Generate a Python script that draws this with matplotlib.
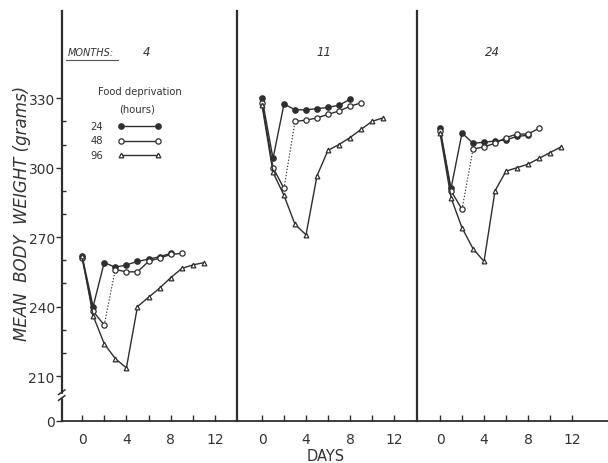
import matplotlib
matplotlib.use("Agg")
import matplotlib.pyplot as plt
from matplotlib.lines import Line2D

# ---------------- data ----------------
months = ["4", "11", "24"]
hours = ["24", "48", "96"]

days24 = [0, 1, 2, 3, 4, 5, 6, 7, 8]
days48 = [0, 1, 2, 3, 4, 5, 6, 7, 8, 9]
days96 = [0, 1, 2, 3, 4, 5, 6, 7, 8, 9, 10, 11]

w24_m4 = [262, 240, 259, 257, 258, 259.5, 260.5, 261.5, 263]
w48_m4 = [261, 238, 232, 256, 255, 255, 259.5, 261, 262.5, 263]
w96_m4 = [262, 236, 224, 217.5, 213.5, 240, 244, 248, 252.5, 256.5, 258, 259]

w24_m11 = [330, 304, 327.5, 325, 325, 325.5, 326, 327, 329.5]
w48_m11 = [328, 300, 291, 320, 320.5, 321.5, 323, 324.5, 326.5, 328]
w96_m11 = [327, 298, 288, 275.5, 271, 296.5, 307.5, 310, 313, 316.5, 320, 321.5]

w24_m24 = [317, 291, 315, 310.5, 311, 311.5, 312, 313.5, 314]
w48_m24 = [316, 290, 282, 308, 309, 310.5, 313, 314.5, 314.5, 317]
w96_m24 = [315, 287, 274, 265, 259.5, 290, 298.5, 300, 301.5, 304, 306.5, 309]

# recovery (food returned) index per deprivation length
recover = {"24": 2, "48": 3, "96": 5}

ytick_vals = [210, 240, 270, 300, 330]
xtick_vals = [0, 4, 8, 12]

# ---------------- figure ----------------
W, H = 608, 464
fig = plt.figure(figsize=(W / 100, H / 100), dpi=100)
fig.patch.set_facecolor("white")

ink = "#2e2e2e"
y_zero_pos = 190.7        # where the broken axis shows "0"
ylim = (y_zero_pos, 367.8)

x_left, x_div1, x_div2, x_right = 61.7, 236.7, 416.7, 608.0
y_bot, y_top = 421.7, 11.7
bot = (H - y_bot) / H
hgt = (y_bot - y_top) / H

panels = [
    (x_left, x_div1, (-1.83, 13.94)),
    (x_div1, x_div2, (-2.30, 14.06)),
    (x_div2, x_right, (-2.12, 15.27)),
]

data = [
    (w24_m4, w48_m4, w96_m4),
    (w24_m11, w48_m11, w96_m11),
    (w24_m24, w48_m24, w96_m24),
]

styles = {
    "24": dict(marker="o", mfc=ink, mec=ink, ms=3.8),
    "48": dict(marker="o", mfc="white", mec=ink, ms=3.8, mew=0.9),
    "96": dict(marker="^", mfc="white", mec=ink, ms=3.4, mew=0.9),
}

axes = []
for i, (xa, xb, xl) in enumerate(panels):
    ax = fig.add_axes([xa / W, bot, (xb - xa) / W, hgt])
    axes.append(ax)
    ax.set_xlim(*xl)
    ax.set_ylim(*ylim)
    for s in ["top", "right"]:
        ax.spines[s].set_visible(False)
    ax.spines["left"].set_linewidth(1.6)
    ax.spines["left"].set_color(ink)
    ax.spines["bottom"].set_linewidth(1.3)
    ax.spines["bottom"].set_color(ink)

    ax.set_xticks(xtick_vals)
    ax.set_xticks([2, 6, 10], minor=True)
    ax.set_xticklabels([str(v) for v in xtick_vals], fontsize=10, color="#333333")
    ax.tick_params(axis="x", which="both", direction="in", length=4, width=1.0,
                   color=ink, pad=8)

    if i == 0:
        ax.set_yticks([y_zero_pos] + ytick_vals)
        ax.set_yticklabels(["0"] + [str(v) for v in ytick_vals], fontsize=10,
                           color="#333333")
        ax.set_yticks([220, 230, 250, 260, 280, 290, 310, 320], minor=True)
        ax.tick_params(axis="y", which="major", direction="out", length=4,
                       width=1.0, color=ink, pad=1)
        ax.tick_params(axis="y", which="minor", direction="in", length=3,
                       width=1.0, color=ink)
    else:
        ax.set_yticks([])

    w24, w48, w96 = data[i]
    for key, dd, ww in (("24", days24, w24), ("48", days48, w48), ("96", days96, w96)):
        r = recover[key]
        st = styles[key]
        ax.plot(dd[:r], ww[:r], color=ink, lw=1.0, **st, zorder=3)
        ax.plot(dd[r:], ww[r:], color=ink, lw=1.0, **st, zorder=3)
        ls = (0, (1.2, 1.6)) if key == "48" else "-"
        lw = 0.8 if key == "48" else 1.0
        ax.plot(dd[r - 1:r + 1], ww[r - 1:r + 1], color=ink, lw=lw, ls=ls, zorder=2)

# axis break on the y axis
ax0 = axes[0]
trans = ax0.get_yaxis_transform()
for yy in (200.5, 203.0):
    ax0.plot([-0.018, 0.018], [yy - 1.0, yy + 1.0], transform=trans, color=ink,
             lw=1.1, clip_on=False, zorder=5)
ax0.add_patch(plt.Rectangle((-0.01, 201.0), 0.02, 1.4, transform=trans,
                            color="white", clip_on=False, zorder=4))

# labels
fig.text(22 / W, 1 - 213 / H, "MEAN  BODY  WEIGHT (grams)", rotation=90,
         ha="center", va="center", fontsize=12, style="italic",
         color="#333333")
fig.text(326 / W, 1 - 457 / H, "DAYS", ha="center", va="center", fontsize=10.5,
         color="#333333")

# month labels
fig.text(68 / W, 1 - 53 / H, "MONTHS:", ha="left", va="center", fontsize=7,
         style="italic", color="#333333")
fig.add_artist(Line2D([66 / W, 118 / W], [1 - 61 / H, 1 - 61 / H], color="#555555",
                      lw=0.8))
fig.text(147 / W, 1 - 53 / H, months[0], ha="center", va="center", fontsize=8.5,
         style="italic", color="#333333")
fig.text(324 / W, 1 - 53 / H, months[1], ha="center", va="center", fontsize=8.5,
         style="italic", color="#333333")
fig.text(492 / W, 1 - 53 / H, months[2], ha="center", va="center", fontsize=8.5,
         style="italic", color="#333333")

# legend
fig.text(140 / W, 1 - 92 / H, "Food deprivation", ha="center", va="center",
         fontsize=7.2, color="#333333")
fig.text(137 / W, 1 - 110 / H, "(hours)", ha="center", va="center", fontsize=7.2,
         color="#333333")
for j, key in enumerate(hours):
    yy = 1 - (127 + 14.5 * j) / H
    fig.text(97 / W, yy, key, ha="center", va="center", fontsize=7.2,
             color="#333333")
    fig.add_artist(Line2D([121 / W, 158 / W], [yy, yy], color=ink, lw=1.0,
                          **styles[key]))

fig.savefig("out.png", dpi=100, facecolor="white")
